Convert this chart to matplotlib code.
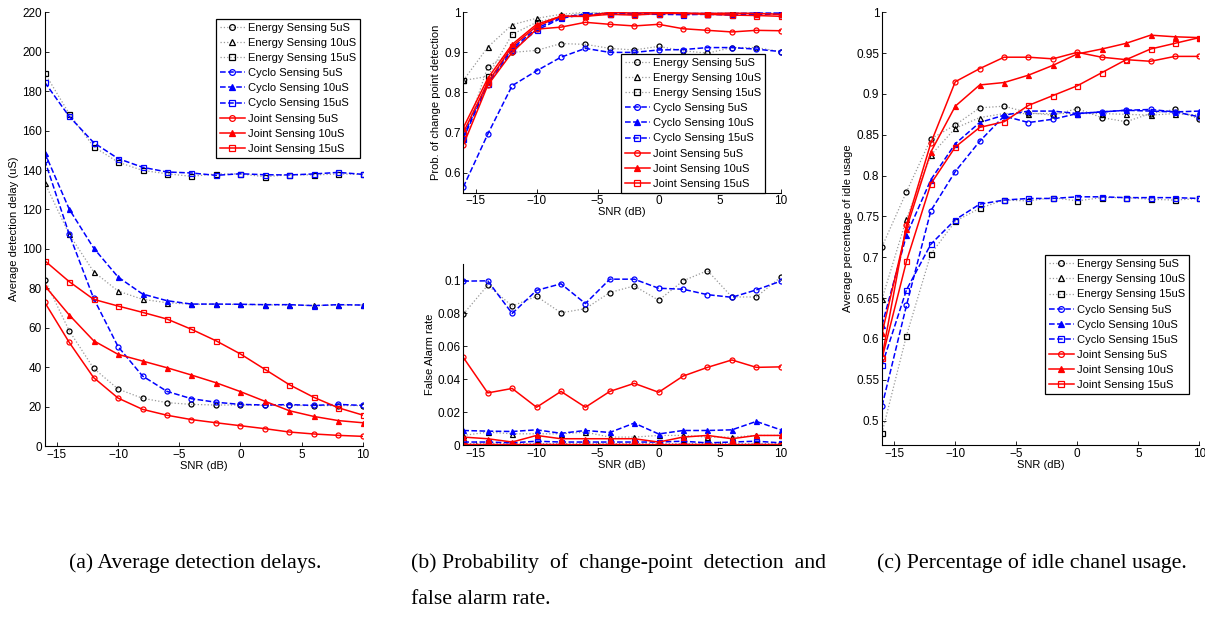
import matplotlib.pyplot as plt
from matplotlib.ticker import FuncFormatter

plt.rcParams['font.family'] = ['Liberation Sans', 'DejaVu Sans']
plt.rcParams['font.size'] = 8

snr = [-16, -14, -12, -10, -8, -6, -4, -2, 0, 2, 4, 6, 8, 10]
labels = ['Energy Sensing 5uS', 'Energy Sensing 10uS', 'Energy Sensing 15uS',
          'Cyclo Sensing 5uS', 'Cyclo Sensing 10uS', 'Cyclo Sensing 15uS',
          'Joint Sensing 5uS', 'Joint Sensing 10uS', 'Joint Sensing 15uS']

# (a) average detection delay (uS)
delay_e5 = [84.4, 58.5, 39.4, 28.9, 24.2, 22.0, 21.1, 20.8, 20.8, 20.6, 20.6, 20.5, 20.5, 20.5]
delay_e10 = [133.6, 107.4, 88.4, 78.6, 74.4, 72.7, 71.9, 71.9, 71.8, 71.6, 71.5, 71.3, 71.5, 71.5]
delay_e15 = [189.2, 168.6, 151.8, 144.0, 139.8, 138.1, 136.8, 138.0, 138.0, 136.6, 137.6, 137.5, 138.0, 137.8]
delay_c5 = [145.0, 107.5, 74.9, 50.4, 35.5, 27.7, 24.0, 22.2, 21.1, 20.8, 21.0, 20.6, 21.1, 20.6]
delay_c10 = [148.8, 120.2, 100.4, 85.7, 77.1, 73.7, 72.0, 72.0, 71.9, 71.7, 71.7, 71.2, 71.7, 71.5]
delay_c15 = [184.5, 167.2, 153.9, 145.8, 141.4, 139.0, 138.5, 137.3, 138.1, 137.6, 137.5, 138.0, 138.8, 137.8]
delay_j5 = [72.9, 52.6, 34.7, 24.3, 18.6, 15.6, 13.4, 11.8, 10.3, 8.8, 7.1, 6.1, 5.4, 4.9]
delay_j10 = [81.3, 66.5, 53.4, 46.5, 43.1, 39.7, 36.0, 32.1, 27.6, 22.7, 17.9, 15.0, 12.9, 11.8]
delay_j15 = [94.0, 83.4, 74.4, 71.0, 67.8, 64.4, 59.2, 53.4, 46.7, 38.9, 31.1, 24.7, 19.4, 15.7]

# (b) probability of change point detection
pd_e5 = [0.682, 0.864, 0.900, 0.905, 0.922, 0.920, 0.910, 0.906, 0.915, 0.904, 0.898, 0.912, 0.912, 0.902]
pd_e10 = [0.830, 0.913, 0.969, 0.985, 0.995, 1.000, 0.998, 0.997, 0.998, 0.997, 0.998, 0.997, 0.998, 0.997]
pd_e15 = [0.830, 0.840, 0.945, 0.975, 0.990, 0.998, 0.998, 0.997, 0.998, 0.998, 0.997, 0.997, 0.998, 0.997]
pd_c5 = [0.564, 0.696, 0.817, 0.854, 0.888, 0.910, 0.900, 0.900, 0.906, 0.907, 0.912, 0.912, 0.908, 0.902]
pd_c10 = [0.690, 0.825, 0.910, 0.960, 0.988, 0.995, 0.997, 0.997, 0.997, 0.997, 0.997, 0.997, 0.998, 0.998]
pd_c15 = [0.685, 0.820, 0.905, 0.955, 0.985, 0.995, 0.995, 0.995, 0.995, 0.994, 0.995, 0.993, 0.995, 0.995]
pd_j5 = [0.669, 0.818, 0.900, 0.958, 0.963, 0.975, 0.970, 0.966, 0.970, 0.959, 0.955, 0.951, 0.955, 0.954]
pd_j10 = [0.712, 0.835, 0.920, 0.970, 0.990, 0.990, 1.000, 0.998, 1.000, 0.998, 0.997, 0.998, 0.997, 0.995]
pd_j15 = [0.700, 0.825, 0.915, 0.965, 0.990, 0.990, 0.995, 0.993, 0.997, 0.997, 0.995, 0.993, 0.992, 0.990]

# (b) false alarm rate
fa_e5 = [0.0796, 0.0971, 0.0845, 0.0904, 0.0804, 0.0829, 0.0927, 0.0967, 0.0880, 0.0998, 0.1060, 0.0900, 0.0900, 0.1020]
fa_e10 = [0.006, 0.008, 0.007, 0.007, 0.007, 0.008, 0.005, 0.005, 0.006, 0.006, 0.005, 0.005, 0.006, 0.006]
fa_e15 = [0.0010, 0.0012, 0.0010, 0.0011, 0.0010, 0.0012, 0.0010, 0.0011, 0.0010, 0.0010, 0.0012, 0.0010, 0.0011, 0.0010]
fa_c5 = [0.0996, 0.0998, 0.0800, 0.0940, 0.0980, 0.0860, 0.1008, 0.1008, 0.0953, 0.0947, 0.0914, 0.0898, 0.0943, 0.0996]
fa_c10 = [0.0090, 0.0086, 0.0084, 0.0094, 0.0073, 0.0090, 0.0078, 0.0135, 0.0069, 0.0090, 0.0090, 0.0094, 0.0145, 0.0094]
fa_c15 = [0.0020, 0.0020, 0.0015, 0.0025, 0.0020, 0.0020, 0.0020, 0.0020, 0.0020, 0.0025, 0.0015, 0.0020, 0.0025, 0.0015]
fa_j5 = [0.0533, 0.0318, 0.0345, 0.0231, 0.0327, 0.0231, 0.0327, 0.0376, 0.0322, 0.0420, 0.0473, 0.0518, 0.0473, 0.0476]
fa_j10 = [0.005, 0.004, 0.002, 0.006, 0.004, 0.004, 0.004, 0.004, 0.002, 0.005, 0.006, 0.004, 0.006, 0.006]
fa_j15 = [0.0005, 0.0005, 0.0004, 0.0005, 0.0005, 0.0004, 0.0005, 0.0005, 0.0004, 0.0005, 0.0005, 0.0004, 0.0005, 0.0005]

# (c) average percentage of idle usage
idle_e5 = [0.713, 0.780, 0.845, 0.862, 0.883, 0.885, 0.877, 0.874, 0.882, 0.871, 0.866, 0.876, 0.881, 0.869]
idle_e10 = [0.649, 0.747, 0.825, 0.858, 0.871, 0.876, 0.876, 0.876, 0.876, 0.876, 0.875, 0.874, 0.876, 0.874]
idle_e15 = [0.485, 0.604, 0.704, 0.744, 0.760, 0.770, 0.769, 0.773, 0.769, 0.773, 0.773, 0.771, 0.770, 0.772]
idle_c5 = [0.518, 0.641, 0.757, 0.805, 0.842, 0.873, 0.865, 0.869, 0.876, 0.878, 0.880, 0.881, 0.878, 0.872]
idle_c10 = [0.617, 0.727, 0.795, 0.839, 0.865, 0.874, 0.879, 0.879, 0.876, 0.878, 0.880, 0.879, 0.878, 0.879]
idle_c15 = [0.568, 0.660, 0.716, 0.746, 0.765, 0.770, 0.772, 0.772, 0.774, 0.774, 0.773, 0.773, 0.773, 0.772]
idle_j5 = [0.578, 0.740, 0.840, 0.915, 0.931, 0.945, 0.945, 0.943, 0.951, 0.945, 0.942, 0.940, 0.946, 0.946]
idle_j10 = [0.607, 0.735, 0.829, 0.885, 0.911, 0.914, 0.923, 0.935, 0.949, 0.955, 0.962, 0.972, 0.970, 0.969]
idle_j15 = [0.576, 0.695, 0.790, 0.835, 0.859, 0.866, 0.886, 0.898, 0.910, 0.926, 0.942, 0.955, 0.962, 0.969]

# line style per series: (line colour, marker colour, linestyle, marker, filled)
styles = [
    ('0.6', 'k', ':', 'o', False),
    ('0.6', 'k', ':', '^', False),
    ('0.6', 'k', ':', 's', False),
    ('b', 'b', '--', 'o', False),
    ('b', 'b', '--', '^', True),
    ('b', 'b', '--', 's', False),
    ('r', 'r', '-', 'o', False),
    ('r', 'r', '-', '^', True),
    ('r', 'r', '-', 's', False),
]

fmt = FuncFormatter(lambda v, p: '%g' % round(v, 4))


def draw(ax, series, ylim, yticks, ylabel):
    for ys, lab, st in zip(series, labels, styles):
        lc, mc, ls, mk, filled = st
        lw = 0.9 if ls == ':' else 1.1
        ax.plot(snr, ys, color=lc, linestyle=ls, linewidth=lw, marker=mk,
                markersize=3.6, markeredgecolor=mc, markeredgewidth=0.9,
                markerfacecolor=mc if filled else 'none', label=lab)
    ax.set_xlim(-16, 10)
    ax.set_ylim(*ylim)
    ax.set_xticks([-15, -10, -5, 0, 5, 10])
    ax.set_yticks(yticks)
    ax.yaxis.set_major_formatter(fmt)
    ax.tick_params(direction='in', length=3, width=0.6, labelsize=8.5, pad=2)
    ax.spines['top'].set_visible(False)
    ax.spines['right'].set_visible(False)
    ax.set_xlabel('SNR (dB)', fontsize=8, labelpad=0)
    ax.set_ylabel(ylabel, fontsize=8, labelpad=2)


def legend(ax, anchor, loc):
    lg = ax.legend(loc=loc, bbox_to_anchor=anchor, borderaxespad=0,
                   fontsize=8, fancybox=False, framealpha=1,
                   edgecolor='k', handlelength=2.2, handletextpad=0.3,
                   labelspacing=0.46, borderpad=0.35, markerscale=1.15)
    lg.get_frame().set_linewidth(0.9)


fig = plt.figure(figsize=(12.05, 6.18), dpi=100)

ax_a = fig.add_axes([0.0371, 0.2783, 0.2639, 0.7018])
draw(ax_a, [delay_e5, delay_e10, delay_e15, delay_c5, delay_c10, delay_c15,
            delay_j5, delay_j10, delay_j15],
     (0, 220), range(0, 221, 20), 'Average detection delay (uS)')
legend(ax_a, (0.9915, 0.9846), 'upper right')

ax_b1 = fig.add_axes([0.3845, 0.6882, 0.2634, 0.2919])
draw(ax_b1, [pd_e5, pd_e10, pd_e15, pd_c5, pd_c10, pd_c15, pd_j5, pd_j10, pd_j15],
     (0.55, 1), [0.6, 0.7, 0.8, 0.9, 1.0], 'Prob. of change point detection')
legend(ax_b1, (0.9505, 0.0), 'lower right')

ax_b2 = fig.add_axes([0.3845, 0.2794, 0.2634, 0.2934])
draw(ax_b2, [fa_e5, fa_e10, fa_e15, fa_c5, fa_c10, fa_c15, fa_j5, fa_j10, fa_j15],
     (0, 0.11), [0, 0.02, 0.04, 0.06, 0.08, 0.1], 'False Alarm rate')

ax_c = fig.add_axes([0.7320, 0.2799, 0.2633, 0.7002])
draw(ax_c, [idle_e5, idle_e10, idle_e15, idle_c5, idle_c10, idle_c15,
            idle_j5, idle_j10, idle_j15],
     (0.47, 1), [0.5, 0.55, 0.6, 0.65, 0.7, 0.75, 0.8, 0.85, 0.9, 0.95, 1.0],
     'Average percentage of idle usage')
legend(ax_c, (0.9675, 0.1179), 'lower right')

cap = dict(fontsize=15.7, family=['Liberation Serif', 'DejaVu Serif'], va='center')
fig.text(69 / 1205, 1 - 563 / 618, '(a) Average detection delays.', ha='left', **cap)
fig.text(411 / 1205, 1 - 563 / 618, '(b) Probability  of  change-point  detection  and', ha='left', **cap)
fig.text(411 / 1205, 1 - 600 / 618, 'false alarm rate.', ha='left', **cap)
fig.text(877 / 1205, 1 - 563 / 618, '(c) Percentage of idle chanel usage.', ha='left', **cap)

fig.savefig('out.png', dpi=100)
